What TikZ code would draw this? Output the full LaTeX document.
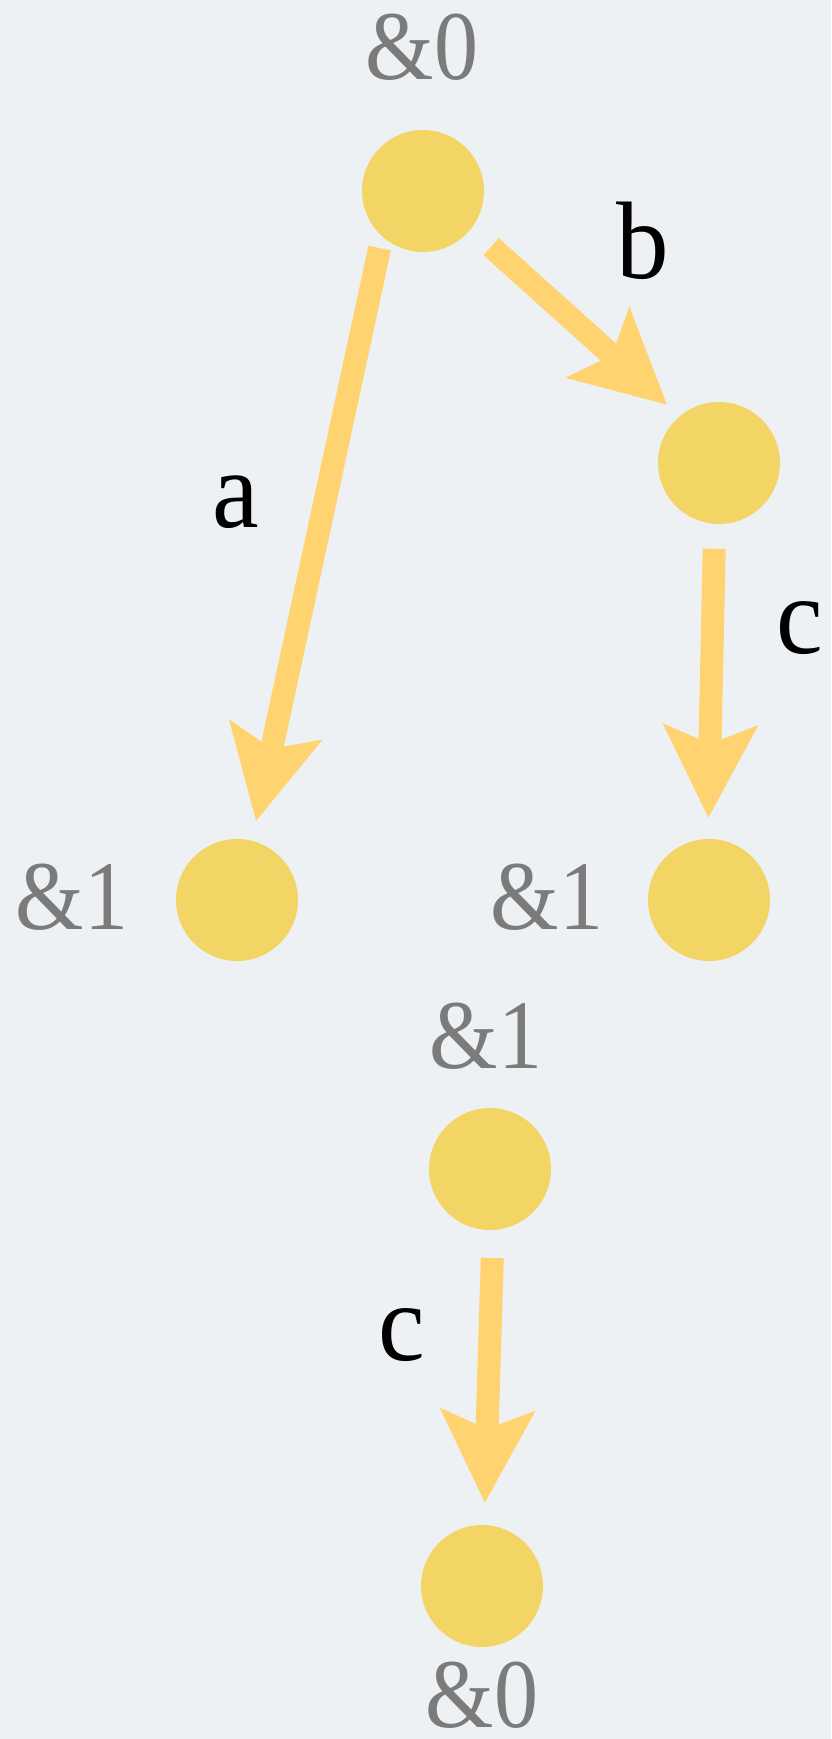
\documentclass[tikz,border=0pt]{standalone}
\usepackage{fontspec}
\setmainfont{Liberation Serif}
\usetikzlibrary{arrows.meta}
\definecolor{bgc}{HTML}{EEF1F4}
\definecolor{dotc}{HTML}{F3D565}
\definecolor{arrc}{HTML}{FFD470}
\definecolor{lblc}{HTML}{7B7B7B}
\tikzset{
  state/.style={circle, fill=dotc, draw=none, minimum size=122pt, inner sep=0pt, outer sep=0pt},
  nlabel/.style={anchor=base, text=lblc, font=\fontsize{88}{88}\selectfont, inner sep=0pt, yscale=1.12},
  elabel/.style={anchor=base, text=black, font=\fontsize{105}{105}\selectfont, inner sep=0pt, yscale=1.05},
  trans/.style={draw=arrc, line width=23pt, -{Stealth[length=92pt, width=92pt, inset=18pt]}}
}
\begin{document}
\begin{tikzpicture}[x=1pt, y=-1pt]
  \fill[bgc] (0,0) rectangle (831,1739);
  \useasboundingbox (0,0) rectangle (831,1739);

  % states
  \node[state] (top) at (423,191) {};
  \node[state] (rm)  at (719,463) {};
  \node[state] (lb)  at (237,900) {};
  \node[state] (rb)  at (709,900) {};
  \node[state] (mid) at (490,1169) {};
  \node[state] (bot) at (482,1586) {};

  % state labels
  \node[nlabel] (ltop) at (422,80) {\&0};
  \node[nlabel] (llb)  at (72,929) {\&1};
  \node[nlabel] (lrb)  at (547,929) {\&1};
  \node[nlabel] (lmid) at (486,1068) {\&1};
  \node[nlabel] (lbot) at (482,1727) {\&0};

  % transitions
  \draw[trans, shorten <=12pt, shorten >=20pt] (top.228) -- (lb.76);
  \draw[trans, shorten <=27pt, shorten >=17pt] (top.-38) -- (rm.130);
  \draw[trans, shorten <=25pt, shorten >=21pt] (rm.-94) -- (rb.91);
  \draw[trans, shorten <=28pt, shorten >=22pt] (mid.-87) -- (bot.88);

  % transition labels
  \node[elabel] (ea)  at (236,527) {a};
  \node[elabel] (eb)  at (643,278) {b};
  \node[elabel] (ec1) at (800,653) {c};
  \node[elabel] (ec2) at (402,1360) {c};
\end{tikzpicture}
\end{document}
